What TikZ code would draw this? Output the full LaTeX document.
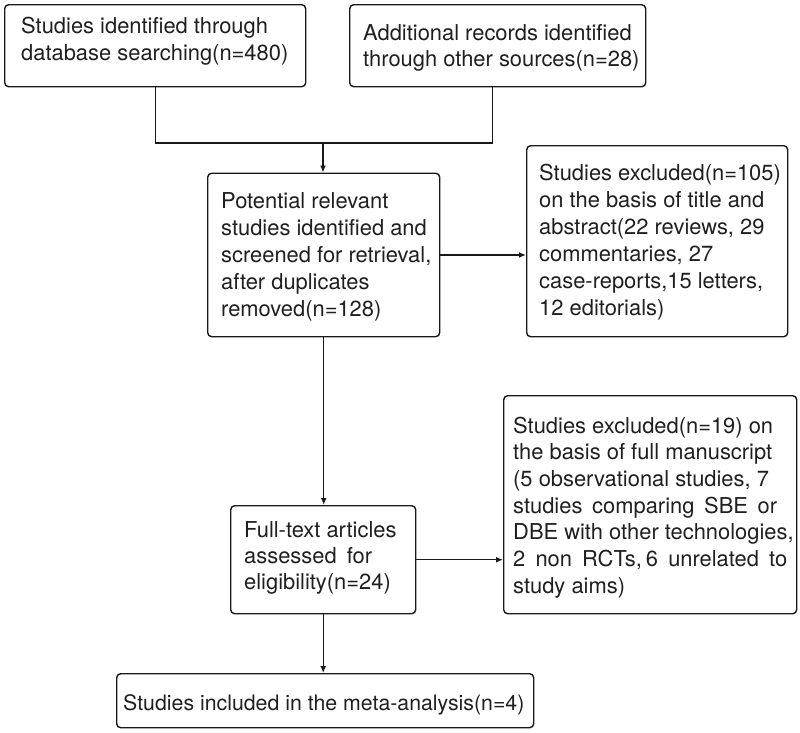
\documentclass[tikz,border=0pt]{standalone}
\usepackage{fontspec}
\setmainfont{TeX Gyre Heros}
\usetikzlibrary{arrows.meta}
\newcommand\tbox[4][21.9]{\parbox[t]{#2}{\fontsize{#1}{#3}\selectfont\raggedright #4}}
\begin{document}
\begin{tikzpicture}[x=1pt,y=-1pt,
  box/.style={draw=black!90, line width=1.4pt, rounded corners=4pt, inner sep=0pt, anchor=north west},
  txt/.style={anchor=base west, inner sep=0pt, text=black!88},
  conn/.style={line width=1.4pt, draw=black!90},
  arr/.style={conn, -{Latex[length=7pt,width=6pt]}}]
\useasboundingbox (0,0) rectangle (800,732);

% boxes
\node[box, minimum width=301pt, minimum height=82pt] (b1) at (4,4) {};
\node[box, minimum width=296pt, minimum height=82pt] (b2) at (349,4) {};
\node[box, minimum width=232pt, minimum height=163.5pt] (b3) at (207,172.5) {};
\node[box, minimum width=261pt, minimum height=191pt] (b4) at (526,145) {};
\node[box, minimum width=185pt, minimum height=108pt] (b5) at (230,505) {};
\node[box, minimum width=293pt, minimum height=218pt] (b6) at (503,395) {};
\node[box, minimum width=417pt, minimum height=54pt] (b7) at (116,673) {};

% texts
\node[txt] (t1) at (21,33) {\tbox{280pt}{27}{Studies identified through\\database searching(n=480)}};
\node[txt] (t2) at (363,40) {\tbox{280pt}{26.5}{Additional records identified\\through other sources(n=28)}};
\node[txt] (t3) at (221,208) {\tbox{215pt}{27.1}{Potential relevant\\studies identified and\\screened for retrieval,\\after duplicates\\removed(n=128)}};
\node[txt] (t4) at (539,180) {\tbox{245pt}{27}{Studies excluded(n=105)\\on the basis of title and\\abstract(22 reviews, 29\\commentaries, 27\\case-reports,15 letters,\\12 editorials)}};
\node[txt] (t5) at (244,537) {\tbox{168pt}{26}{Full-text articles\\\makebox[128pt][s]{assessed \ for}\\eligibility(n=24)}};
\node[txt] (t6) at (513,433) {\tbox{285pt}{26.7}{Studies excluded(n=19) on\\the basis of full manuscript\\(5 observational studies, 7\\\makebox[264pt][s]{studies comparing SBE or}\\DBE with other technologies,\\\makebox[274pt][s]{2 non RCTs,\kern4pt6 unrelated to}\\study aims)}};
\node[txt] (t7) at (123,710) {\tbox[21.3]{440pt}{27}{Studies included in the meta-analysis(n=4)}};

% connectors
\coordinate (m) at (323,143);
\draw[conn] (b1.south) |- (m);
\draw[conn] ([xshift=-5pt]b2.south) |- (m);
\draw[arr] (m) -- (b3.north -| m);
\draw[arr] (b3.east) -- (b3.east -| b4.west);
\draw[arr] (b3.south) -- (b3.south |- b5.north);
\draw[arr] (b5.east) -- (b5.east -| b6.west);
\draw[arr] (b5.south) -- (b5.south |- b7.north);
\end{tikzpicture}
\end{document}
